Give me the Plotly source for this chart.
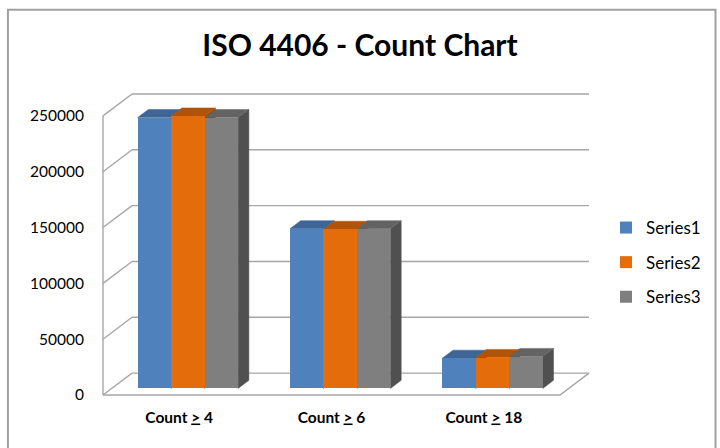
import plotly.graph_objects as go

# ---------------- data ----------------
categories = ["Count <u>&gt;</u> 4", "Count <u>&gt;</u> 6", "Count <u>&gt;</u> 18"]
series_names = ["Series1", "Series2", "Series3"]
series1 = [242600, 143000, 27000]
series2 = [244000, 142500, 27700]
series3 = [242600, 143000, 28600]
y_ticks = [0, 50000, 100000, 150000, 200000, 250000]
y_tick_labels = ["0", "50000", "100000", "150000", "200000", "250000"]
series_values = [series1, series2, series3]

# ---------------- styles ----------------
front_colors = ["#4F81BD", "#E46C0A", "#7F7F7F"]
top_colors = ["#3D6696", "#B0540A", "#636363"]
side_colors = ["#35597F", "#9A4909", "#505050"]
grid_color = "#A6A6A6"
FONT = "Lato"

# ---------------- geometry (pixel layout of the pseudo-3D box) ----------------
W, H = 720, 448
CAT_PX = 152.2            # pixels per category
VAL_PX = 280 / 250000     # pixels per value unit
DXC = 29 / CAT_PX         # depth offset in category units
DV = 22 / VAL_PX          # depth offset in value units
PAD = 4
FRONT_LEFT_PX = 103
FLOOR_FRONT_Y = 395.5
Z0, Z1 = 0.30, 0.67       # bar depth within the floor
BAR_W = 0.22
GROUP_W = BAR_W * len(series_names)

n = len(categories)
x_lo = -0.5 - PAD / CAT_PX
x_hi = n - 0.5 + DXC + PAD / CAT_PX
y_top = y_ticks[-1]
y_lo = -PAD / VAL_PX
y_hi = y_top + DV + PAD / VAL_PX
ml = FRONT_LEFT_PX - PAD
pw = (x_hi - x_lo) * CAT_PX
mr = W - ml - pw
mb = H - FLOOR_FRONT_Y - PAD
ph = (y_hi - y_lo) * VAL_PX
mt = H - mb - ph

fig = go.Figure()

# ---------------- walls / floor lines ----------------
gx, gy = [], []
left = -0.5
right = n - 0.5
for v in y_ticks:
    # back wall gridline
    gx += [left + DXC, right + DXC, None]
    gy += [v + DV, v + DV, None]
    # side wall diagonal
    gx += [left, left + DXC, None]
    gy += [v, v + DV, None]
# front-left vertical edge
gx += [left, left, None]
gy += [0, y_top, None]
# floor front edge and right edge
gx += [left, right, right + DXC, None]
gy += [0, 0, DV, None]
fig.add_trace(go.Scatter(x=gx, y=gy, mode="lines",
                         line=dict(color=grid_color, width=1.4),
                         hoverinfo="skip", showlegend=False))

# ---------------- top / side faces ----------------
for i, vals in enumerate(series_values):
    sx, sy, tx, ty = [], [], [], []
    for c, v in enumerate(vals):
        xl = c - GROUP_W / 2 + i * BAR_W
        xr = xl + BAR_W
        # side face
        sx += [xr + Z0 * DXC, xr + Z1 * DXC, xr + Z1 * DXC, xr + Z0 * DXC, xr + Z0 * DXC, None]
        sy += [Z0 * DV, Z1 * DV, v + Z1 * DV, v + Z0 * DV, Z0 * DV, None]
        # top face
        tx += [xl + Z0 * DXC, xr + Z0 * DXC, xr + Z1 * DXC, xl + Z1 * DXC, xl + Z0 * DXC, None]
        ty += [v + Z0 * DV, v + Z0 * DV, v + Z1 * DV, v + Z1 * DV, v + Z0 * DV, None]
    fig.add_trace(go.Scatter(x=sx, y=sy, mode="lines", fill="toself",
                             fillcolor=side_colors[i],
                             line=dict(color=side_colors[i], width=0.5),
                             hoverinfo="skip", showlegend=False))
    fig.add_trace(go.Scatter(x=tx, y=ty, mode="lines", fill="toself",
                             fillcolor=top_colors[i],
                             line=dict(color=top_colors[i], width=0.5),
                             hoverinfo="skip", showlegend=False))

# ---------------- front faces (overlay axes so they sit on top) ----------------
for i, vals in enumerate(series_values):
    xs = [c - GROUP_W / 2 + i * BAR_W + BAR_W / 2 + Z0 * DXC for c in range(n)]
    fig.add_trace(go.Bar(x=xs, y=vals, base=[Z0 * DV] * n, width=BAR_W,
                         name=series_names[i], legendgroup=series_names[i],
                         marker=dict(color=front_colors[i], line=dict(width=0)),
                         xaxis="x2", yaxis="y2"))

# ---------------- frame ----------------
def px_x(p):
    return (p - ml) / pw

def px_y(p):
    return (H - mb - p) / ph

fig.add_shape(type="path", xref="paper", yref="paper",
              path=f"M {px_x(8)} {px_y(470)} L {px_x(8)} {px_y(9)} L {px_x(715)} {px_y(9)} L {px_x(715)} {px_y(470)}",
              line=dict(color="#A0A0A0", width=2), layer="below")

fig.update_layout(
    width=W, height=H,
    margin=dict(l=ml, r=mr, t=mt, b=mb, autoexpand=False),
    paper_bgcolor="white", plot_bgcolor="white",
    barmode="overlay", bargap=0,
    title=dict(text="ISO 4406 - Count Chart", x=0.5, xanchor="center",
               xref="container", y=1 - 45 / H, yanchor="middle", yref="container",
               font=dict(family=FONT, size=30, color="#000000", weight="bold")),
    xaxis=dict(range=[x_lo, x_hi], tickvals=list(range(n)), ticktext=categories,
               showgrid=False, zeroline=False, showline=False, ticks="",
               ticklabelstandoff=7,
               tickfont=dict(family=FONT, size=15.5, color="#000000", weight="bold")),
    yaxis=dict(range=[y_lo, y_hi], tickvals=y_ticks, ticktext=y_tick_labels,
               showgrid=False, zeroline=False, showline=False, ticks="",
               ticklabelstandoff=14,
               tickfont=dict(family=FONT, size=15.5, color="#000000")),
    xaxis2=dict(range=[x_lo, x_hi], overlaying="x", visible=False),
    yaxis2=dict(range=[y_lo, y_hi], overlaying="y", visible=False),
    legend=dict(x=606 / W, y=1 - 210 / H, xref="container", yref="container",
                xanchor="left", yanchor="top", traceorder="grouped",
                tracegroupgap=9.5,
                font=dict(family=FONT, size=17, color="#000000")),
    showlegend=True,
)

fig.write_html("out.html", config={"displayModeBar": False},
               post_script="document.body.style.margin='0';document.body.style.overflow='hidden';")
